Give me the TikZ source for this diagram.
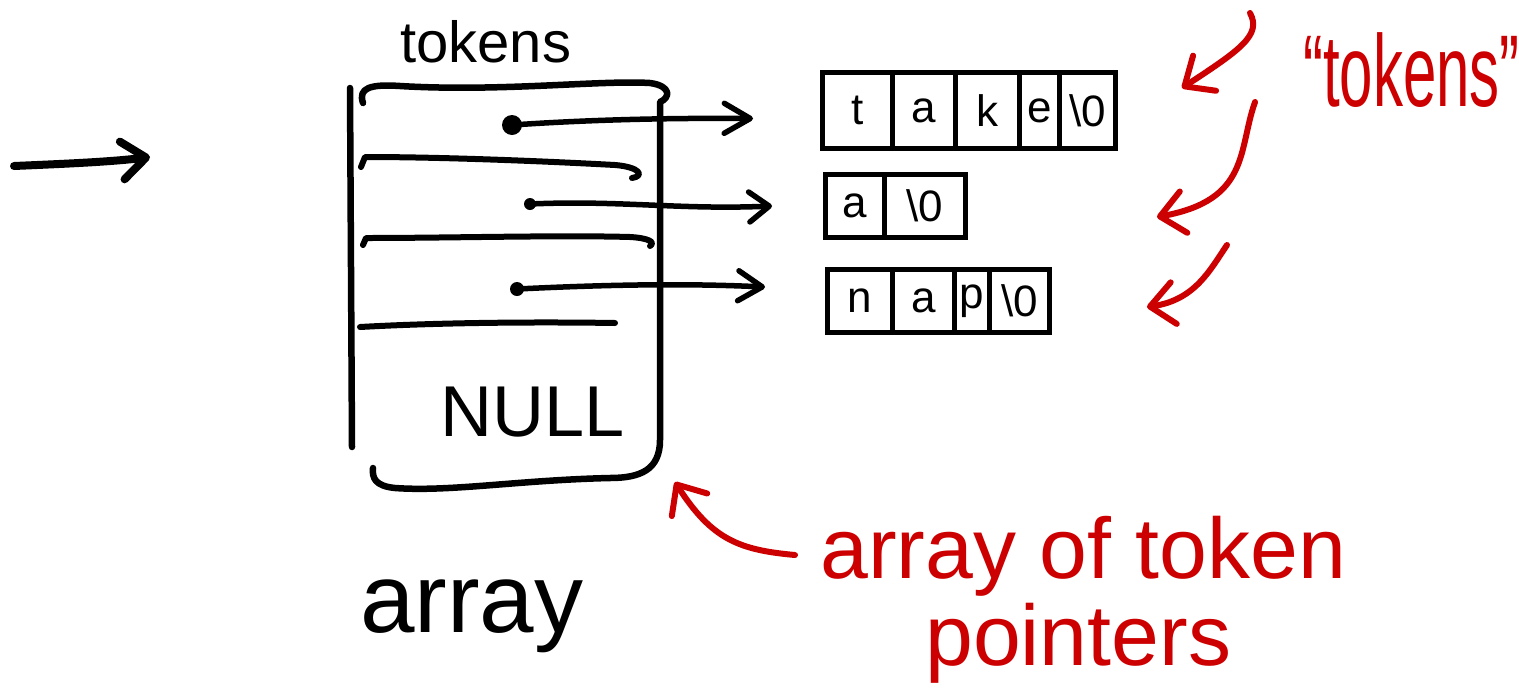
\documentclass[tikz,border=0pt]{standalone}
\usepackage{fontspec}
\usepackage{graphicx}
\setmainfont{Liberation Sans}
\usetikzlibrary{arrows.meta}
\definecolor{pen}{RGB}{204,0,0}
\newcommand{\nulch}{\textbackslash 0}
\begin{document}
\begin{tikzpicture}[x=1pt,y=-1pt,
  ink/.style={line width=6.5pt,line cap=round,line join=round},
  redink/.style={ink,line width=6pt,draw=pen},
  rowline/.style={line width=6pt,line cap=round,line join=round},
  cell/.style={draw,line width=5pt,inner sep=0pt,anchor=north west,
    font=\fontsize{44}{50}\selectfont},
  dot/.style={circle,fill=black,inner sep=0pt},
  ptr/.style={line width=5.5pt,line cap=round,
    -{Straight Barb[length=#1,width=30pt,round]}},
  ptr/.default=22pt,
  rbarb/.style={-{Straight Barb[length=24pt,width=42pt,round]}},
  label/.style={inner sep=0pt,anchor=base west},
]
\useasboundingbox (0,0) rectangle (1519,689);

% ---- input arrow on the left
\coordinate (inA) at (14,166);
\coordinate (inB) at (150,157);
\draw[ink,line width=8pt,-{Straight Barb[length=24pt,width=38pt,round]}]
  (inA) .. controls (60,164) and (110,162) .. (inB);

% ---- label above the array
\node[label,font=\fontsize{58}{60}\selectfont] (toplbl) at (400,62) {tokens};

% ---- the array
\draw[ink] (350,88) -- (352,447);
\draw[ink] (363,103) .. controls (358,88) and (370,84) .. (400,86)
  .. controls (500,92) and (600,80) .. (650,83)
  .. controls (672,86) and (670,98) .. (660,102) -- (660,440)
  .. controls (660,470) and (640,478) .. (610,478)
  .. controls (520,480) and (450,492) .. (395,488)
  .. controls (375,486) and (372,478) .. (373,468);
\draw[rowline] (361,167) -- (365,157) .. controls (450,157) and (560,162) .. (615,165)
  .. controls (640,167) and (645,176) .. (632,178);
\draw[rowline] (363,245) -- (366,238) .. controls (450,238) and (560,235) .. (630,237)
  .. controls (648,238) and (656,242) .. (650,246);
\draw[rowline] (360,327) .. controls (450,322) and (550,322) .. (615,323);
\node[font=\fontsize{72}{74}\selectfont,inner sep=0pt] (null) at (533,412) {NULL};
\node[label,font=\fontsize{98}{100}\selectfont] (arrlbl) at (360,632) {array};

% ---- pointer dots
\node[dot,minimum size=20pt] (d1) at (512,125) {};
\node[dot,minimum size=12pt] (d2) at (530,204) {};
\node[dot,minimum size=14pt] (d3) at (517,289) {};

% ---- token strings
\node[cell,minimum width=70pt,minimum height=76pt] (c11) at (820,70) {t};
\node[cell,minimum width=63pt,minimum height=76pt] (c12) at (890,70) {a};
\node[cell,minimum width=64pt,minimum height=76pt] (c13) at (953,70) {k};
\node[cell,minimum width=40pt,minimum height=76pt] (c14) at (1017,70) {e};
\node[cell,minimum width=56pt,minimum height=76pt] (c15) at (1057,70) {\nulch};

\node[cell,minimum width=59pt,minimum height=63pt] (c21) at (823,172) {a};
\node[cell,minimum width=81pt,minimum height=63pt] (c22) at (882,172) {\nulch};

\node[cell,minimum width=65pt,minimum height=63pt] (c31) at (825,267) {n};
\node[cell,minimum width=62pt,minimum height=63pt] (c32) at (890,267) {a};
\node[cell,minimum width=35pt,minimum height=63pt] (c33) at (952,267) {p};
\node[cell,minimum width=60pt,minimum height=63pt] (c34) at (987,267) {\nulch};

% ---- pointers
\draw[ptr=26pt] (d1.center) .. controls (600,119) and (680,118) .. ([shift={(-67,8)}]c11.west);
\draw[ptr=20pt] (d2.center) .. controls (620,200) and (680,210) .. ([shift={(-51,0)}]c21.west);
\draw[ptr=24pt] (d3.center) .. controls (600,285) and (680,283) .. ([shift={(-60,-14)}]c31.west);

% ---- red annotations
\node[label,text=pen,font=\fontsize{60}{62}\selectfont] (rtok) at (1303,106)
  {\scalebox{1}[1.7]{“tokens”}};
\coordinate (ra1) at (1250,13);  \coordinate (ra2) at (1182,88);
\coordinate (rb1) at (1255,102); \coordinate (rb2) at (1157,217);
\coordinate (rc1) at (1227,245); \coordinate (rc2) at (1147,307);
\draw[redink,rbarb] (ra1) .. controls (1262,35) and (1240,50) .. (ra2);
\draw[redink,rbarb] (rb1) .. controls (1238,150) and (1250,200) .. (rb2);
\draw[redink,rbarb] (rc1) .. controls (1210,270) and (1195,300) .. (rc2);

\node[label,text=pen,font=\fontsize{86}{88}\selectfont] (rnote1) at (820,578) {array of token};
\node[label,text=pen,font=\fontsize{86}{88}\selectfont] (rnote2) at (925,665) {pointers};
\coordinate (rd1) at (795,555);
\coordinate (rd2) at (675,482);
\draw[redink,rbarb] (rd1) .. controls (740,550) and (712,540) .. (rd2);
\end{tikzpicture}
\end{document}
